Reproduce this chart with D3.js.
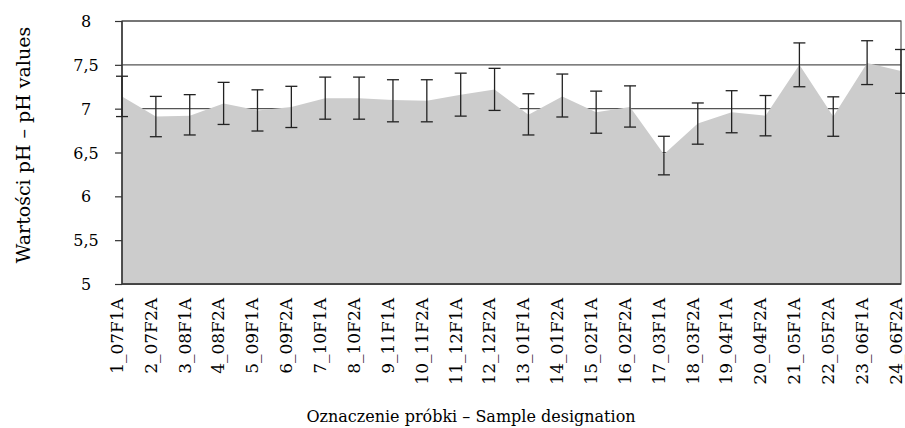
<!DOCTYPE html>
<html><head><meta charset="utf-8">
<script src="https://cdn.jsdelivr.net/npm/d3@7"></script>
<style>body{margin:0;background:#fff}text{font-family:"DejaVu Serif",serif;fill:#000}</style>
</head><body><svg id="c" width="905" height="428"></svg>
<script>
const categories = ["1_07F1A","2_07F2A","3_08F1A","4_08F2A","5_09F1A","6_09F2A","7_10F1A","8_10F2A","9_11F1A","10_11F2A","11_12F1A","12_12F2A","13_01F1A","14_01F2A","15_02F1A","16_02F2A","17_03F1A","18_03F2A","19_04F1A","20_04F2A","21_05F1A","22_05F2A","23_06F1A","24_06F2A"];
const phMean = [7.14,6.91,6.92,7.06,6.98,7.02,7.12,7.12,7.10,7.09,7.16,7.22,6.93,7.14,6.96,7.02,6.48,6.83,6.96,6.92,7.50,6.91,7.52,7.43];
const phErr  = [0.23,0.23,0.23,0.24,0.235,0.235,0.24,0.24,0.24,0.24,0.245,0.24,0.235,0.245,0.24,0.235,0.22,0.235,0.24,0.23,0.25,0.225,0.25,0.25];
const phErrMid = [7.14,6.91,6.93,7.06,6.98,7.02,7.12,7.12,7.09,7.09,7.16,7.22,6.935,7.15,6.96,7.025,6.465,6.83,6.965,6.92,7.50,6.91,7.525,7.425];
const yTicks = [5,5.5,6,6.5,7,7.5,8];
const yTickLabels = ["5","5,5","6","6,5","7","7,5","8"];
const xTitle = "Oznaczenie próbki – Sample designation";
const yTitle = "Wartości pH – pH values";

const svg = d3.select("#c");
const L = 122, R = 901, T = 21, B = 284;
const x = d3.scalePoint().domain(categories).range([L, R]);
const y = d3.scaleLinear().domain([5, 8]).range([B, T]);
const FONT = "'DejaVu Serif',serif";

// gridlines (behind area)
svg.append("g").selectAll("line").data(yTicks).join("line")
  .attr("x1", L).attr("x2", R).attr("y1", d => y(d)).attr("y2", d => y(d))
  .attr("stroke", "#555").attr("stroke-width", 1.2);

// area
const data = categories.map((c, i) => ({c, v: phMean[i], m: phErrMid[i], e: phErr[i]}));
svg.append("path").datum(data)
  .attr("d", d3.area().x(d => x(d.c)).y0(y(5)).y1(d => y(d.v)))
  .attr("fill", "#cccccc");

// frame
svg.append("rect").attr("x", L).attr("y", T).attr("width", R - L).attr("height", B - T)
  .attr("fill", "none").attr("stroke", "#555").attr("stroke-width", 1.2);
svg.append("line").attr("x1", L).attr("x2", L).attr("y1", T).attr("y2", B).attr("stroke", "#333").attr("stroke-width", 1.4);
svg.append("line").attr("x1", L).attr("x2", R).attr("y1", B).attr("y2", B).attr("stroke", "#333").attr("stroke-width", 1.4);

// y axis
const yAxis = d3.axisLeft(y).tickValues(yTicks).tickSize(7).tickPadding(0)
  .tickFormat((d, i) => yTickLabels[i]);
const gy = svg.append("g").attr("transform", `translate(${L},0)`).call(yAxis);
gy.select(".domain").remove();
gy.selectAll(".tick line").attr("stroke", "#333").attr("stroke-width", 1.2);
gy.selectAll(".tick text").attr("x", -36).attr("text-anchor", "middle")
  .attr("dy", "0.35em").style("font-size", "16px").style("font-family", FONT);

// x axis labels
const xAxis = d3.axisBottom(x).tickSize(0).tickPadding(0);
const gx = svg.append("g").attr("transform", `translate(0,${B})`).call(xAxis);
gx.select(".domain").remove();
gx.selectAll(".tick text")
  .attr("transform", "rotate(-90)")
  .attr("x", -14).attr("y", 0).attr("dy", "0.02em")
  .attr("text-anchor", "end")
  .style("font-size", "17px").style("font-family", FONT);

// error bars
const eb = svg.append("g").attr("stroke", "#222").attr("stroke-width", 1.3);
const cap = 6;
data.forEach(d => {
  const cx = x(d.c), yt = y(d.m + d.e), yb = y(d.m - d.e);
  eb.append("line").attr("x1", cx).attr("x2", cx).attr("y1", yt).attr("y2", yb);
  eb.append("line").attr("x1", cx - cap).attr("x2", cx + cap).attr("y1", yt).attr("y2", yt);
  eb.append("line").attr("x1", cx - cap).attr("x2", cx + cap).attr("y1", yb).attr("y2", yb);
});

// titles
svg.append("text").attr("x", 471).attr("y", 422).attr("text-anchor", "middle")
  .style("font-size", "16px").text(xTitle);
svg.append("text").attr("transform", "translate(30,145) rotate(-90)").attr("text-anchor", "middle")
  .style("font-size", "19px").text(yTitle);
</script></body></html>
